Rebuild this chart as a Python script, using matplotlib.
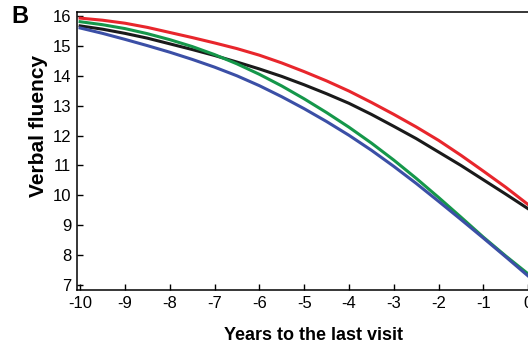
import matplotlib
matplotlib.use("Agg")
import matplotlib.pyplot as plt

plt.rcParams['font.family'] = ['Liberation Sans', 'DejaVu Sans']
plt.rcParams['axes.unicode_minus'] = False

# readings every half year
years = [-10, -9.5, -9, -8.5, -8, -7.5, -7, -6.5, -6, -5.5, -5,
         -4.5, -4, -3.5, -3, -2.5, -2, -1.5, -1, -0.5, 0]
red = [15.93, 15.86, 15.76, 15.62, 15.45, 15.28, 15.10, 14.91, 14.69, 14.43, 14.14,
       13.83, 13.49, 13.11, 12.71, 12.29, 11.84, 11.34, 10.81, 10.27, 9.69]
black = [15.67, 15.56, 15.42, 15.26, 15.07, 14.88, 14.68, 14.46, 14.23, 13.98, 13.70,
         13.40, 13.08, 12.71, 12.31, 11.90, 11.45, 11.00, 10.52, 10.04, 9.55]
green = [15.81, 15.71, 15.58, 15.41, 15.21, 14.98, 14.71, 14.40, 14.05, 13.66, 13.23,
         12.77, 12.28, 11.75, 11.18, 10.57, 9.93, 9.27, 8.60, 7.97, 7.37]
blue = [15.60, 15.42, 15.22, 15.01, 14.79, 14.55, 14.29, 14.00, 13.67, 13.30, 12.90,
        12.47, 12.01, 11.51, 10.97, 10.40, 9.80, 9.19, 8.57, 7.94, 7.30]

xticks = list(range(-10, 1))
yticks = list(range(7, 17))

fig = plt.figure(figsize=(5.28, 3.47), dpi=100)
ax = fig.add_axes([0.1458, 0.164, 0.897, 0.801])

ax.plot(years, red, color='#e8262c', lw=2.2)
ax.plot(years, black, color='#1a1a1a', lw=2.2)
ax.plot(years, green, color='#15974a', lw=2.2)
ax.plot(years, blue, color='#3b4fa6', lw=2.2)

ax.set_xlim(-10.07, 0.5)
ax.set_ylim(6.83, 16.13)
ax.set_xticks(xticks)
ax.set_yticks(yticks)
ax.tick_params(direction='in', length=4, width=1, labelsize=12, pad=4)
for s in ax.spines.values():
    s.set_linewidth(1.1)

ax.set_xlabel('Years to the last visit', fontsize=13, fontweight='bold', labelpad=12)
ax.set_ylabel('Verbal fluency', fontsize=15, fontweight='bold')
ax.yaxis.set_label_coords(-0.062, 0.59)
fig.text(0.022, 0.985, 'B', fontsize=17, fontweight='bold', va='top', ha='left')

fig.savefig('out.png', dpi=100)
